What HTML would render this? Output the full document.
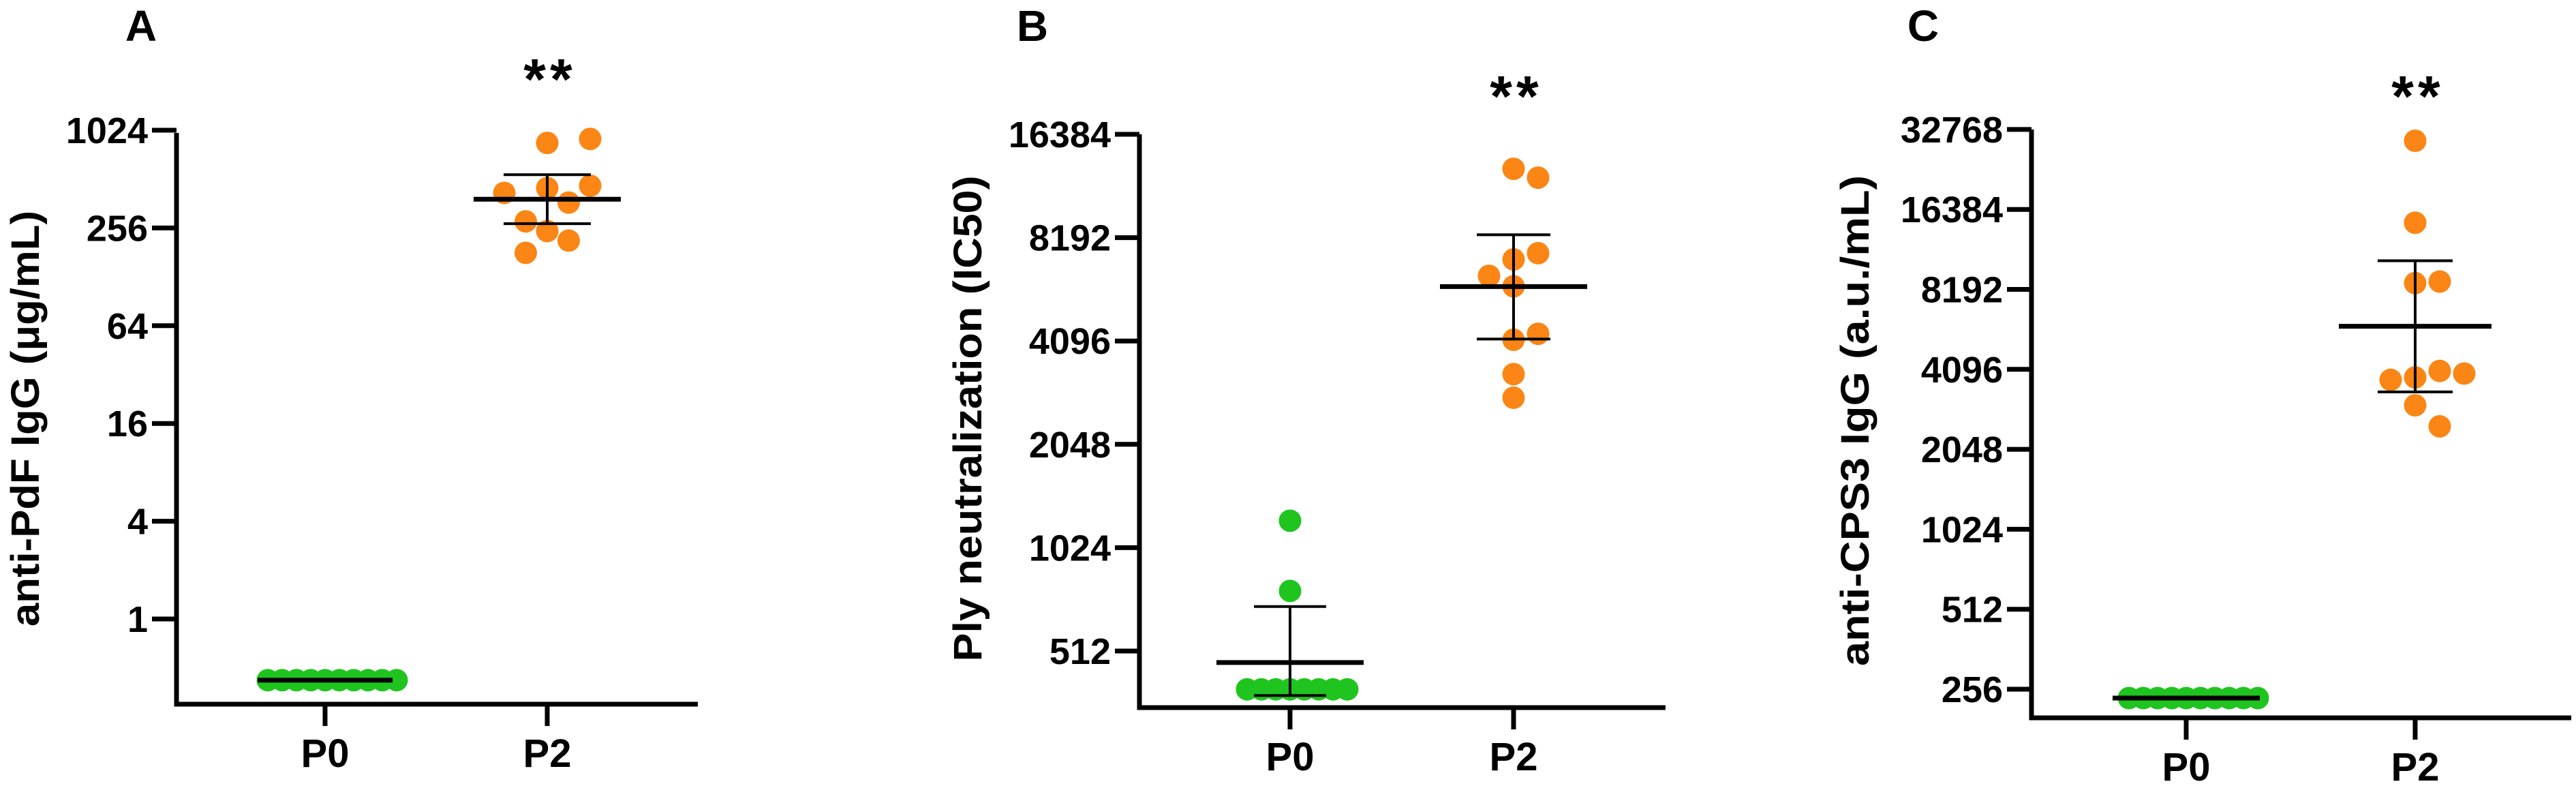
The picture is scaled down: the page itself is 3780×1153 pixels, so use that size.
<!DOCTYPE html>
<html><head><meta charset="utf-8"><style>
html,body{margin:0;padding:0;background:#fff;}
svg{display:block;font-family:"Liberation Sans",Arial,sans-serif;}
</style></head><body>
<svg id="fig" width="3780" height="1153" viewBox="0 0 3780 1153" xmlns="http://www.w3.org/2000/svg"></svg>
<script>
// Panel A data (anti-PdF IgG, µg/mL)
const aCategories = ["P0", "P2"];
const aTicks = [1, 4, 16, 64, 256, 1024];
const aP0 = [0.42,0.42,0.42,0.42,0.42,0.42,0.42,0.42,0.42,0.42];
const aP2 = [855, 905, 451, 466, 421, 367, 245, 281, 214, 180];
const aMean = [0.42, 385];
const aErrHi = [0.42, 545];
const aErrLo = [0.42, 272];
// Panel B data (Ply neutralization IC50)
const bCategories = ["P0", "P2"];
const bTicks = [512, 1024, 2048, 4096, 8192, 16384];
const bP0 = [396,396,396,396,396,396,396,396,1227,766];
const bP2 = [13000, 12250, 7080, 7380, 5910, 6340, 4130, 4300, 3280, 2800];
const bMean = [474, 5900];
const bErrHi = [690, 8350];
const bErrLo = [380, 4150];
// Panel C data (anti-CPS3 IgG, a.u./mL)
const cCategories = ["P0", "P2"];
const cTicks = [256, 512, 1024, 2048, 4096, 8192, 16384, 32768];
const cP0 = [237,237,237,237,237,237,237,237,237,237];
const cP2 = [29700, 14600, 8650, 8770, 3820, 4040, 3740, 3950, 3000, 2500];
const cMean = [237, 5950];
const cErrHi = [237, 10500];
const cErrLo = [237, 3370];

const NS = "http://www.w3.org/2000/svg";
const svg = document.getElementById("fig");
const GREEN = "#1fc41f", ORANGE = "#fb8515";
function mk(tag, attrs, parent){
  const e = document.createElementNS(NS, tag);
  for (const k in attrs) e.setAttribute(k, attrs[k]);
  (parent||svg).appendChild(e);
  return e;
}

function panel(cfg){
  const g = mk("g", {});
  
  
  const y = v => cfg.refY - (Math.log(v/cfg.refV)/Math.log(cfg.base)) * cfg.step;
  const x = i => cfg.catX[i];

  const letter = mk("text", {x: cfg.letterX, y: 60, "font-size": 64, "font-weight": "bold", "text-anchor": "middle"}, g);
  letter.textContent = cfg.letter;
  
  

  const yaxis = mk("line", {x1: cfg.axX, y1: cfg.axTop, x2: cfg.axX, y2: cfg.axBot + 3.5, stroke: "#000", "stroke-width": 7}, g);
  
  
  const xaxis = mk("line", {x1: cfg.axX - 3.5, y1: cfg.axBot, x2: cfg.axEnd, y2: cfg.axBot, stroke: "#000", "stroke-width": 7}, g);
  
  

  cfg.ticks.forEach(t => {
    const ty = y(t);
    const tl = mk("line", {x1: cfg.axX - 36, y1: ty, x2: cfg.axX, y2: ty, stroke: "#000", "stroke-width": 7}, g);
    
    
    const tx = mk("text", {x: cfg.axX - 42, y: ty + 19, "font-size": 54, "font-weight": "bold", "text-anchor": "end"}, g);
    tx.textContent = String(t);
    
    
  });

  cfg.cats.forEach((c, i) => {
    const tl = mk("line", {x1: x(i), y1: cfg.axBot, x2: x(i), y2: cfg.axBot + 32, stroke: "#000", "stroke-width": 7}, g);
    
    
    const tx = mk("text", {x: x(i), y: cfg.axBot + 92, "font-size": 58, "font-weight": "bold", "text-anchor": "middle"}, g);
    tx.textContent = c;
    
    
  });

  const ttl = mk("text", {x: 0, y: 0, "font-size": 58, "font-weight": "bold", "text-anchor": "middle",
    transform: `translate(${cfg.titleX},${cfg.titleY}) rotate(-90)`, textLength: cfg.titleLen, lengthAdjust: "spacingAndGlyphs"}, g);
  ttl.textContent = cfg.title;
  
  

  const star = mk("text", {x: x(1) + 4, y: cfg.starY + 38, "font-size": 84, "font-weight": "bold", "text-anchor": "middle", "letter-spacing": 6}, g);
  star.textContent = "**";
  
  

  const series = [cfg.p0, cfg.p2];
  const colors = [GREEN, ORANGE];
  series.forEach((vals, si) => {
    const placed = [];
    const cx = x(si);
    const s = cfg.swarmStep[si], minD = cfg.swarmMin[si];
    vals.forEach(v => {
      const py = y(v);
      let off = 0;
      for (let k = 0; k < 40; k++) {
        const cand = k === 0 ? 0 : (k % 2 ? 1 : -1) * Math.ceil(k/2) * s;
        if (placed.every(p => Math.hypot(p[0] - (cx + cand), p[1] - py) >= minD)) { off = cand; break; }
      }
      placed.push([cx + off, py]);
      const dot = mk("circle", {cx: cx + off, cy: py, r: 16.5, fill: colors[si]}, g);
      
      
    });
  });

  [0, 1].forEach(i => {
    const cx = x(i);
    const hw = cfg.meanHalf[i], cw = cfg.capHalf[i];
    const eb = mk("line", {x1: cx, y1: y(cfg.errHi[i]), x2: cx, y2: y(cfg.errLo[i]), stroke: "#000", "stroke-width": 4}, g);
    
    
    [cfg.errHi[i], cfg.errLo[i]].forEach(v => {
      const cap = mk("line", {x1: cx - cw, y1: y(v), x2: cx + cw, y2: y(v), stroke: "#000", "stroke-width": 4}, g);
      
      
    });
    const m = mk("line", {x1: cx - hw, y1: y(cfg.mean[i]), x2: cx + hw, y2: y(cfg.mean[i]), stroke: "#000", "stroke-width": 7}, g);
    
    
  });
}

panel({id:"a", letter:"A", letterX:207, cats:aCategories, ticks:aTicks, base:4, refV:1, refY:908, step:143.4,
  axX:259, axTop:195, axBot:1033, axEnd:1024, catX:[477, 803], titleX:57, titleY:614, titleLen:610,
  title:"anti-PdF IgG (\u03bcg/mL)", starY:107, p0:aP0, p2:aP2, mean:aMean, errHi:aErrHi, errLo:aErrLo,
  swarmStep:[21,31.5], swarmMin:[20,34], meanHalf:[99,108], capHalf:[0,64]});
panel({id:"b", letter:"B", letterX:1515, cats:bCategories, ticks:bTicks, base:2, refV:512, refY:955, step:151.6,
  axX:1672, axTop:197, axBot:1038, axEnd:2444, catX:[1893, 2221], titleX:1440, titleY:614, titleLen:713,
  title:"Ply neutralization (IC50)", starY:132, p0:bP0, p2:bP2, mean:bMean, errHi:bErrHi, errLo:bErrLo,
  swarmStep:[21,36], swarmMin:[20,34], meanHalf:[108,108], capHalf:[53,54]});
panel({id:"c", letter:"C", letterX:2822, cats:cCategories, ticks:cTicks, base:2, refV:256, refY:1011, step:117.3,
  axX:2981, axTop:190, axBot:1053, axEnd:3773, catX:[3208, 3544], titleX:2742, titleY:617, titleLen:720,
  title:"anti-CPS3 IgG (a.u./mL)", starY:132, p0:cP0, p2:cP2, mean:cMean, errHi:cErrHi, errLo:cErrLo,
  swarmStep:[21,36], swarmMin:[20,34], meanHalf:[108,112], capHalf:[0,55]});
</script>
</body></html>
